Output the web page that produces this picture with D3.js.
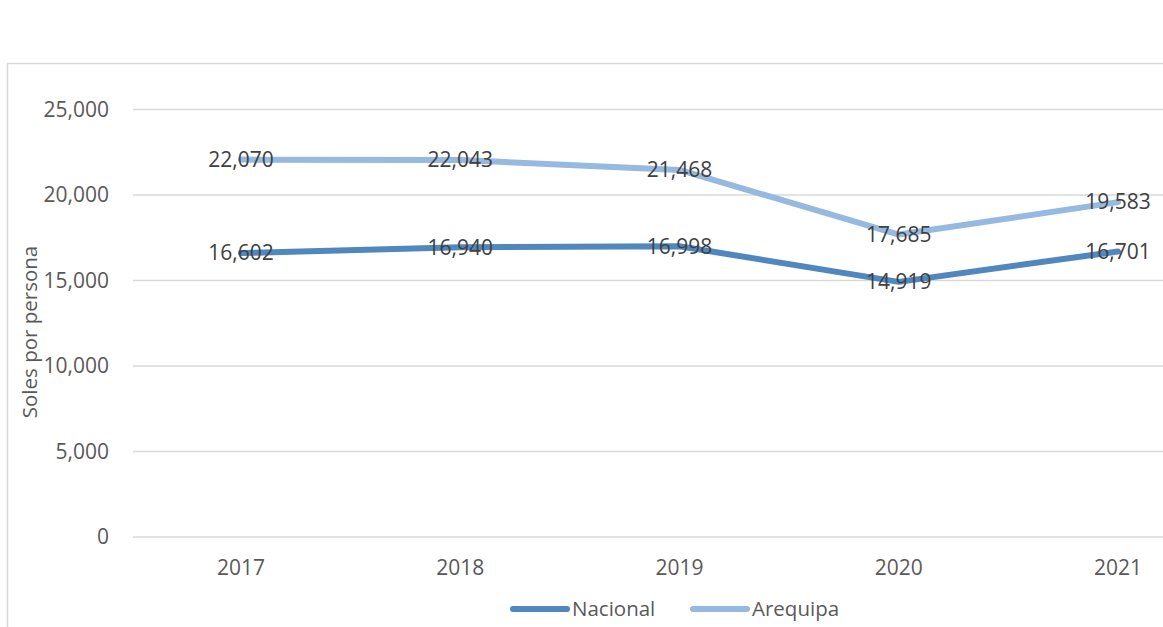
<!DOCTYPE html>
<html>
<head>
<meta charset="utf-8">
<script src="https://cdn.jsdelivr.net/npm/d3@7"></script>
<style>
  body { margin: 0; background: #fff; }
  text { font-family: "Open Sans", sans-serif; }
</style>
</head>
<body>
<svg width="1163" height="627"></svg>
<script>
var years = ["2017", "2018", "2019", "2020", "2021"];
var nacional = [16602, 16940, 16998, 14919, 16701];
var arequipa = [22070, 22043, 21468, 17685, 19583];
var yTicks = [0, 5000, 10000, 15000, 20000, 25000];

var series = [
  { name: "Nacional", values: nacional, color: "#4f87be" },
  { name: "Arequipa", values: arequipa, color: "#95b9e0" }
];

var svg = d3.select("svg");

// chart frame (the right and bottom edges are cut off in the original)
svg.append("rect")
    .attr("x", 7.5).attr("y", 63.5)
    .attr("width", 1200).attr("height", 600)
    .attr("fill", "none")
    .attr("stroke", "#d9d9d9")
    .attr("stroke-width", 1.5);

var x = d3.scalePoint()
    .domain(years)
    .range([241, 1118]);

var y = d3.scaleLinear()
    .domain([0, 25000])
    .range([537, 109.5]);

var fmt = d3.format(",");

// gridlines
svg.append("g")
  .selectAll("line")
  .data(yTicks)
  .enter().append("line")
    .attr("x1", 133).attr("x2", 1163)
    .attr("y1", function(d) { return y(d); })
    .attr("y2", function(d) { return y(d); })
    .attr("stroke", "#d9d9d9")
    .attr("stroke-width", 1.5);

// y axis labels
svg.append("g")
  .selectAll("text")
  .data(yTicks)
  .enter().append("text")
    .attr("x", 109)
    .attr("y", function(d) { return y(d); })
    .attr("dy", "0.35em")
    .attr("text-anchor", "end")
    .attr("font-size", 21)
    .attr("fill", "#595959")
    .text(function(d) { return fmt(d); });

// x axis labels
svg.append("g")
  .selectAll("text")
  .data(years)
  .enter().append("text")
    .attr("x", function(d) { return x(d); })
    .attr("y", 568)
    .attr("dy", "0.35em")
    .attr("text-anchor", "middle")
    .attr("font-size", 21)
    .attr("fill", "#595959")
    .text(function(d) { return d; });

// y axis title
svg.append("text")
    .attr("transform", "translate(30,332) rotate(-90)")
    .attr("dy", "0.35em")
    .attr("text-anchor", "middle")
    .attr("font-size", 20.5)
    .attr("fill", "#595959")
    .text("Soles por persona");

var line = d3.line()
    .x(function(d, i) { return x(years[i]); })
    .y(function(d) { return y(d); });

svg.append("g")
  .selectAll("path")
  .data(series)
  .enter().append("path")
    .attr("d", function(s) { return line(s.values); })
    .attr("fill", "none")
    .attr("stroke", function(s) { return s.color; })
    .attr("stroke-width", 6)
    .attr("stroke-linecap", "round")
    .attr("stroke-linejoin", "round");

// data labels, centered on the points
series.forEach(function(s) {
  svg.append("g")
    .selectAll("text")
    .data(s.values)
    .enter().append("text")
      .attr("x", function(d, i) { return x(years[i]); })
      .attr("y", function(d) { return y(d); })
      .attr("dy", "0.35em")
      .attr("text-anchor", "middle")
      .attr("font-size", 21)
      .attr("fill", "#404040")
      .text(function(d) { return fmt(d); });
});

// legend
var legendX = [513, 693];
var legend = svg.append("g")
  .selectAll("g")
  .data(series)
  .enter().append("g")
    .attr("transform", function(s, i) { return "translate(" + legendX[i] + ",609)"; });

legend.append("line")
    .attr("x1", 0).attr("x2", 54)
    .attr("stroke", function(s) { return s.color; })
    .attr("stroke-width", 6)
    .attr("stroke-linecap", "round");

legend.append("text")
    .attr("x", 59)
    .attr("dy", "0.35em")
    .attr("font-size", 20.5)
    .attr("fill", "#595959")
    .text(function(s) { return s.name; });
</script>
</body>
</html>
